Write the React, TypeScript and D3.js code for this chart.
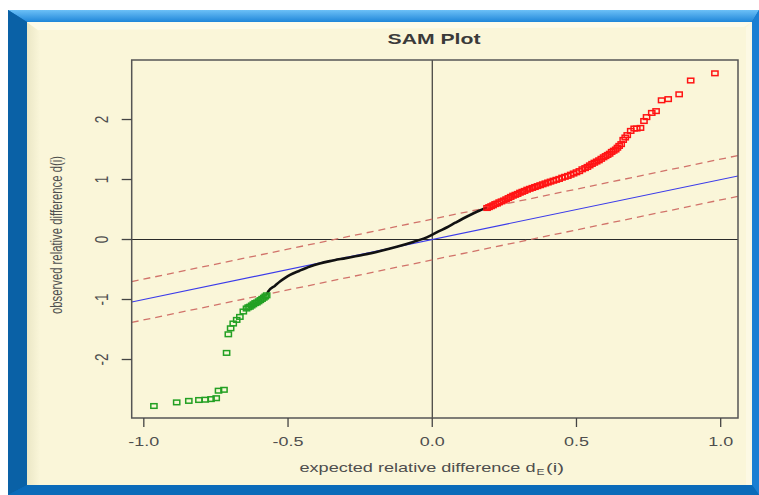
import React from "react";
import * as d3 from "d3";

// ---- data ----
const title = "SAM Plot";
const xLabelMain = "expected relative difference d";
const xLabelSub = "E";
const xLabelTail = "(i)";
const yLabel = "observed relative difference d(i)";

const xTicks = [-1, -0.5, 0, 0.5, 1];
const xTickLabels = ["-1.0", "-0.5", "0.0", "0.5", "1.0"];
const yTicks = [-2, -1, 0, 1, 2];
const yTickLabels = ["-2", "-1", "0", "1", "2"];

const delta = 0.34; // band half-width around the y = x line

// non-significant genes (drawn as a dense black curve)
const blackPoints: [number, number][] = [
  [-0.574, -0.92], [-0.569, -0.87], [-0.545, -0.77], [-0.528, -0.7], [-0.51, -0.64],
  [-0.493, -0.59], [-0.46, -0.52], [-0.424, -0.45], [-0.39, -0.4], [-0.355, -0.36],
  [-0.3, -0.31], [-0.239, -0.255], [-0.18, -0.19], [-0.123, -0.12], [-0.066, -0.04],
  [-0.03, 0.015], [-0.008, 0.06], [0.02, 0.13], [0.05, 0.2], [0.08, 0.28],
  [0.107, 0.35], [0.14, 0.43], [0.177, 0.51], [0.19, 0.53],
];

// up-regulated significant genes (red squares)
const redPoints: [number, number][] = [
  [0.19, 0.525], [0.197, 0.54], [0.204, 0.555], [0.211, 0.57], [0.218, 0.59], [0.225, 0.6],
  [0.232, 0.62], [0.24, 0.635], [0.248, 0.65], [0.256, 0.67], [0.264, 0.69], [0.272, 0.71],
  [0.28, 0.73], [0.288, 0.745], [0.296, 0.76], [0.304, 0.78], [0.312, 0.795], [0.32, 0.81],
  [0.329, 0.83], [0.338, 0.845], [0.347, 0.86], [0.356, 0.875], [0.365, 0.89], [0.374, 0.905],
  [0.383, 0.92], [0.392, 0.935], [0.401, 0.95], [0.41, 0.965], [0.42, 0.98], [0.43, 0.995],
  [0.44, 1.01], [0.45, 1.03], [0.46, 1.045], [0.47, 1.06], [0.48, 1.08], [0.49, 1.1],
  [0.5, 1.12], [0.51, 1.14], [0.52, 1.17], [0.53, 1.19], [0.538, 1.21], [0.546, 1.235],
  [0.554, 1.26], [0.562, 1.28], [0.57, 1.3], [0.578, 1.32], [0.586, 1.345], [0.594, 1.37],
  [0.601, 1.39], [0.608, 1.41], [0.615, 1.43], [0.622, 1.46], [0.629, 1.48], [0.636, 1.5],
  [0.642, 1.53], [0.648, 1.56], [0.655, 1.59], [0.662, 1.66], [0.669, 1.7], [0.676, 1.74],
  [0.688, 1.81], [0.7, 1.85], [0.709, 1.85], [0.722, 1.86], [0.734, 1.975], [0.743, 2.04],
  [0.761, 2.11], [0.776, 2.14], [0.795, 2.32], [0.818, 2.34], [0.856, 2.42], [0.896, 2.65],
  [0.98, 2.77],
];

// down-regulated significant genes (green squares)
const greenPoints: [number, number][] = [
  [-0.965, -2.775], [-0.886, -2.715], [-0.844, -2.69], [-0.809, -2.675], [-0.787, -2.67],
  [-0.767, -2.66], [-0.749, -2.645], [-0.741, -2.52], [-0.722, -2.505], [-0.713, -1.89],
  [-0.707, -1.58], [-0.699, -1.48], [-0.69, -1.4], [-0.678, -1.34], [-0.667, -1.29],
  [-0.655, -1.2], [-0.644, -1.15], [-0.638, -1.13], [-0.632, -1.12], [-0.626, -1.1],
  [-0.62, -1.08], [-0.614, -1.06], [-0.608, -1.05], [-0.602, -1.03], [-0.596, -1.01],
  [-0.59, -0.99], [-0.584, -0.97], [-0.579, -0.95], [-0.574, -0.93],
];

// ---- layout ----
const W = 759;
const H = 495;
const plotL = 131.7;
const plotR = 738;
const plotT = 60;
const plotB = 418;

const textColor = "#4e4e4e";
const font = "'Liberation Sans', Arial, Helvetica, sans-serif";

export default function App() {
  const x = d3.scaleLinear().domain([-1.042, 1.06]).range([plotL, plotR]);
  const y = d3.scaleLinear().domain([-2.975, 2.992]).range([plotB, plotT]);
  const [x0, x1] = x.domain();

  const line = d3
    .line<[number, number]>()
    .x((d) => x(d[0]))
    .y((d) => y(d[1]))
    .curve(d3.curveMonotoneX);

  const sqW = 6.2;
  const sqH = 4.6;

  return (
    <svg
      width={W}
      height={H}
      style={{ position: "absolute", left: 0, top: 0, display: "block" }}
      fontFamily={font}
    >
      <defs>
        <linearGradient id="topBar" x1="0" y1="0" x2="0" y2="1">
          <stop offset="0" stopColor="#6cc0f7" />
          <stop offset="1" stopColor="#1f86d9" />
        </linearGradient>
        <linearGradient id="leftBevel" x1="0" y1="0" x2="1" y2="0">
          <stop offset="0" stopColor="#ebe7c6" />
          <stop offset="1" stopColor="#faf6d9" />
        </linearGradient>
        <clipPath id="plotClip">
          <rect x={plotL} y={plotT} width={plotR - plotL} height={plotB - plotT} />
        </clipPath>
      </defs>

      <rect x={0} y={0} width={W} height={H} fill="#ffffff" />
      {/* blue beveled frame */}
      <rect x={8} y={10} width={W - 8} height={H - 10} fill="#0d6cb8" />
      <polygon points="8,10 759,10 752,22 27,22" fill="url(#topBar)" />
      <polygon points="8,10 27,22 27,485 8,495" fill="#0a61a6" />
      <polygon points="759,10 752,22 752,485 759,495" fill="#1b7fd3" />
      <polygon points="8,495 27,485 752,485 759,495" fill="#0b6bb9" />
      {/* cream panel */}
      <rect x={27} y={22} width={752 - 27} height={485 - 22} fill="#faf6d9" />
      <polygon points="27,22 40,32 40,485 27,485" fill="url(#leftBevel)" />
      <polygon points="27,22 752,22 744,27 38,30" fill="#fdfbe9" />
      <polygon points="752,22 752,485 746,485 746,27" fill="#fcf9e4" />

      {/* title */}
      <text
        x={387.5}
        y={43.5}
        fontSize={14}
        fontWeight="bold"
        fill="#3a3a3a"
        textLength={93}
        lengthAdjust="spacingAndGlyphs"
      >
        {title}
      </text>

      {/* plot content */}
      <g clipPath="url(#plotClip)">
        <line x1={x(0)} x2={x(0)} y1={plotT} y2={plotB} stroke="#2a2a2a" strokeWidth={1.1} />
        <line x1={plotL} x2={plotR} y1={y(0)} y2={y(0)} stroke="#2a2a2a" strokeWidth={1.1} />
        <line x1={x(x0)} y1={y(x0)} x2={x(x1)} y2={y(x1)} stroke="#3b3bea" strokeWidth={1.1} />
        <line
          x1={x(x0)}
          y1={y(x0 + delta)}
          x2={x(x1)}
          y2={y(x1 + delta)}
          stroke="#d1736a"
          strokeWidth={1.3}
          strokeDasharray="7,5"
        />
        <line
          x1={x(x0)}
          y1={y(x0 - delta)}
          x2={x(x1)}
          y2={y(x1 - delta)}
          stroke="#d1736a"
          strokeWidth={1.3}
          strokeDasharray="7,5"
        />
        <path d={line(blackPoints) || ""} fill="none" stroke="#111" strokeWidth={2.6} />
        {greenPoints.map((d, i) => (
          <rect
            key={"g" + i}
            x={x(d[0]) - sqW / 2}
            y={y(d[1]) - sqH / 2}
            width={sqW}
            height={sqH}
            fill="none"
            stroke="#23a023"
            strokeWidth={1.5}
          />
        ))}
        {redPoints.map((d, i) => (
          <rect
            key={"r" + i}
            x={x(d[0]) - sqW / 2}
            y={y(d[1]) - sqH / 2}
            width={sqW}
            height={sqH}
            fill="none"
            stroke="#ff1414"
            strokeWidth={1.5}
          />
        ))}
      </g>

      {/* plot box */}
      <rect
        x={plotL}
        y={plotT}
        width={plotR - plotL}
        height={plotB - plotT}
        fill="none"
        stroke="#555"
        strokeWidth={1.5}
      />

      {/* x axis */}
      {xTicks.map((t, i) => (
        <g key={"xt" + i}>
          <line x1={x(t)} x2={x(t)} y1={plotB} y2={plotB + 9} stroke="#444" strokeWidth={1.3} />
          <text
            transform={`translate(${x(t)},445.5) scale(1.33,1)`}
            textAnchor="middle"
            fontSize={13.5}
            fill={textColor}
          >
            {xTickLabels[i]}
          </text>
        </g>
      ))}

      {/* y axis */}
      {yTicks.map((t, i) => (
        <g key={"yt" + i}>
          <line x1={plotL - 10} x2={plotL} y1={y(t)} y2={y(t)} stroke="#444" strokeWidth={1.3} />
          <text
            transform={`translate(107.5,${y(t)}) scale(1.33,1) rotate(-90)`}
            textAnchor="middle"
            fontSize={13.5}
            fill={textColor}
          >
            {yTickLabels[i]}
          </text>
        </g>
      ))}

      {/* x label */}
      <text
        x={299.5}
        y={472}
        fontSize={13}
        fill={textColor}
        textLength={236}
        lengthAdjust="spacingAndGlyphs"
      >
        {xLabelMain}
      </text>
      <text
        x={536.5}
        y={475}
        fontSize={9}
        fill={textColor}
        textLength={8}
        lengthAdjust="spacingAndGlyphs"
      >
        {xLabelSub}
      </text>
      <text
        x={546}
        y={472}
        fontSize={13}
        fill={textColor}
        textLength={18}
        lengthAdjust="spacingAndGlyphs"
      >
        {xLabelTail}
      </text>

      {/* y label */}
      <text
        transform={`translate(61.5,235) scale(1.35,1) rotate(-90)`}
        textAnchor="middle"
        fontSize={12}
        fill={textColor}
        textLength={158}
        lengthAdjust="spacingAndGlyphs"
      >
        {yLabel}
      </text>
    </svg>
  );
}
